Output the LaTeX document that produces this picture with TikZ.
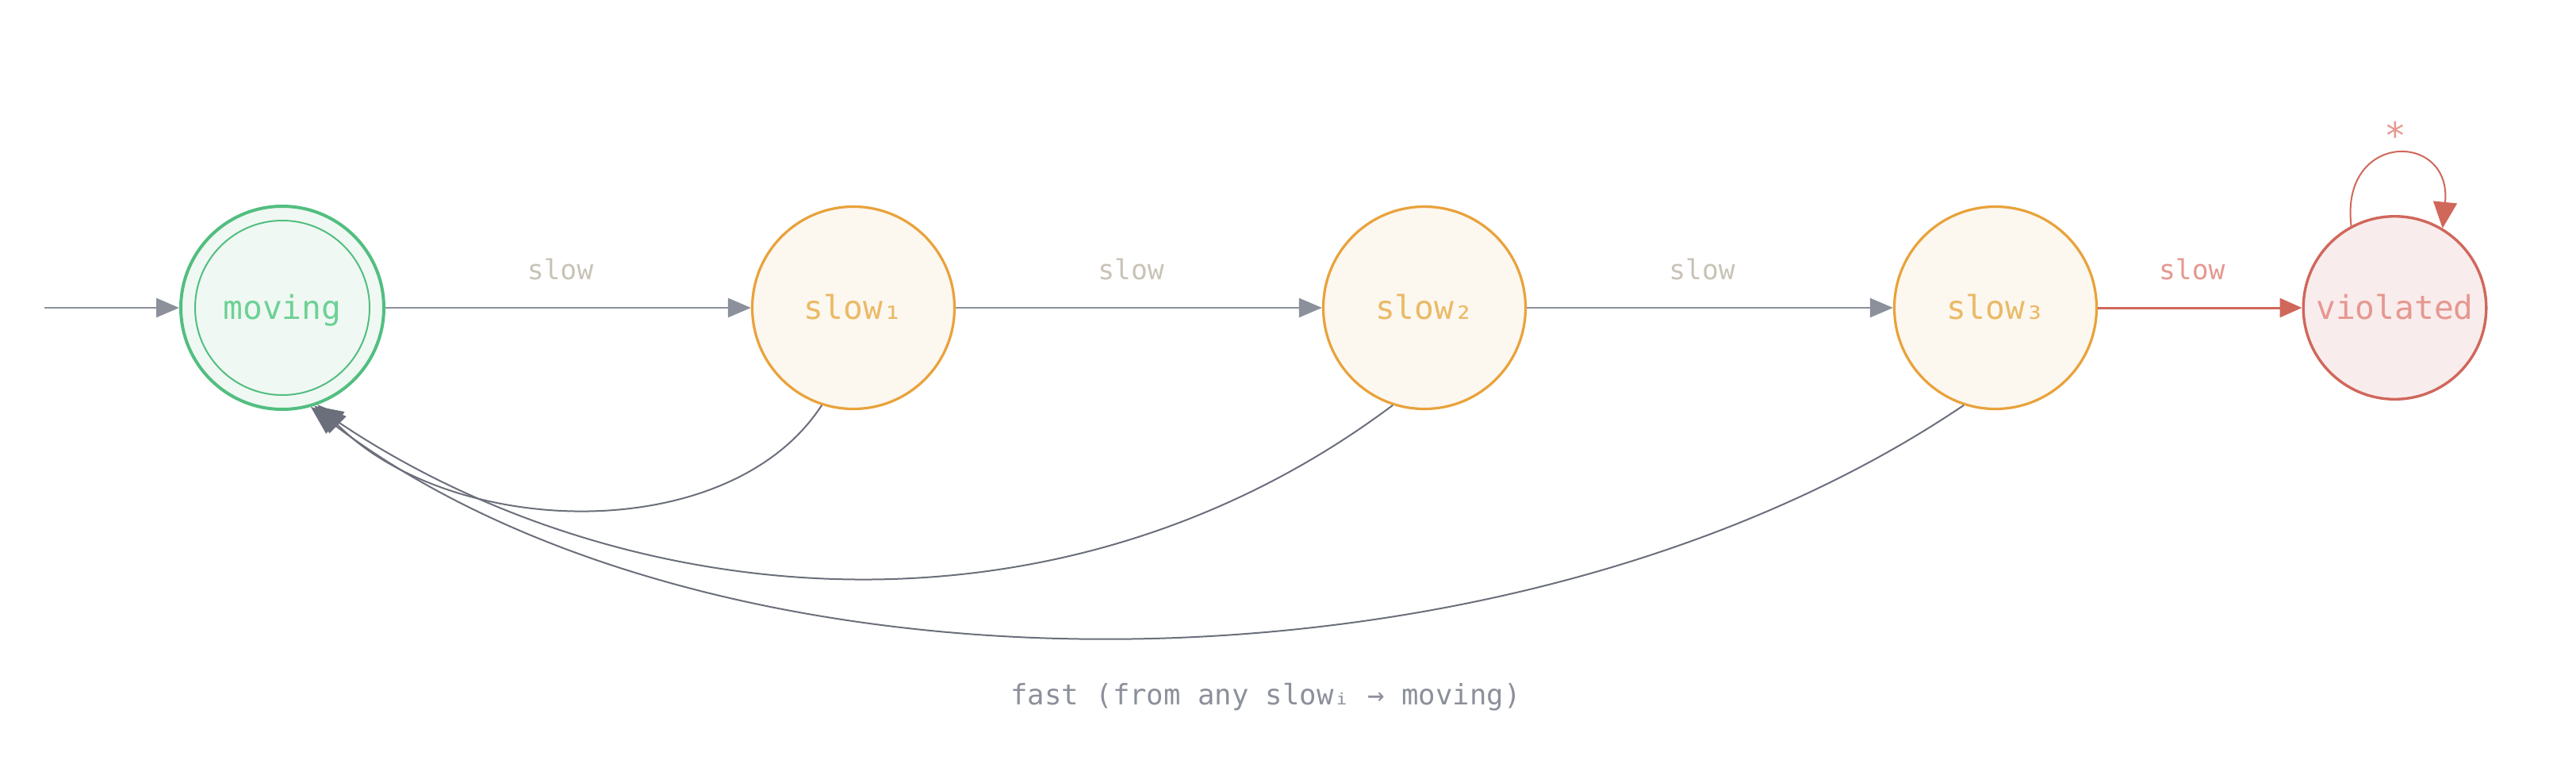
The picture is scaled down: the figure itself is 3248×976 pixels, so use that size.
\documentclass[tikz,border=0pt]{standalone}
\usepackage{fontspec}
\setmonofont{DejaVu Sans Mono}
\usetikzlibrary{arrows.meta}
\definecolor{greenS}{HTML}{52BE80}
\definecolor{greenF}{HTML}{F0F8F3}
\definecolor{greenT}{HTML}{6DD195}
\definecolor{orS}{HTML}{E9A23B}
\definecolor{orF}{HTML}{FCF7EF}
\definecolor{orT}{HTML}{EABA66}
\definecolor{redS}{HTML}{D0675B}
\definecolor{redF}{HTML}{F9ECEC}
\definecolor{redT}{HTML}{E59890}
\definecolor{edgeG}{HTML}{8C909B}
\definecolor{backG}{HTML}{6B6F7B}
\definecolor{lblG}{HTML}{C8C3B6}
\definecolor{noteG}{HTML}{8C909B}
\begin{document}
\begin{tikzpicture}[x=0.25pt,y=-0.25pt,
  statebase/.style={circle, inner sep=0pt, text height=7pt, text depth=0pt,
    font=\ttfamily\fontsize{10.3}{12}\selectfont},
  movingst/.style={statebase, draw=greenS, line width=1pt, fill=greenF, text=greenT, minimum size=64pt},
  slowst/.style={statebase, draw=orS, line width=0.8pt, fill=orF, text=orT, minimum size=63.75pt},
  violst/.style={statebase, draw=redS, line width=0.85pt, fill=redF, text=redT, minimum size=57.65pt},
  fwd/.style={draw=edgeG, line width=0.68pt, -{Triangle[length=7.25pt,width=6pt]}},
  fwdred/.style={draw=redS, line width=0.75pt, -{Triangle[length=7pt,width=6pt]}},
  back/.style={draw=backG, line width=0.5pt, -{Triangle[length=9pt,width=7.5pt]}},
  loopedge/.style={draw=redS, line width=0.5pt, -{Triangle[length=8.25pt,width=7.5pt]}},
  edgelbl/.style={font=\ttfamily\fontsize{8.65}{10}\selectfont, text=lblG, anchor=base, yshift=9pt, xshift=-2.5pt},
]
\useasboundingbox (0,0) rectangle (3248,976);

\node[movingst] (moving) at (356,388) {moving};
\draw[greenS, line width=0.5pt] (moving.center) circle[radius=110];
\node[slowst] (slow1) at (1076,388) {slow₁};
\node[slowst] (slow2) at (1796,388) {slow₂};
\node[slowst] (slow3) at (2516,388) {slow₃};
\node[violst] (violated) at (3019.5,388) {violated};

\coordinate (start) at (56,388);
\draw[fwd] (start) -- (moving);
\draw[fwd] (moving) -- node[edgelbl] {slow} (slow1);
\draw[fwd] (slow1) -- node[edgelbl] {slow} (slow2);
\draw[fwd] (slow2) -- node[edgelbl] {slow} (slow3);
\draw[fwdred] (slow3) -- node[edgelbl, text=redT] {slow} (violated);

\draw[back] (slow1.252) .. controls (920,690) and (570,680) .. (moving.290);
\draw[back] (slow2.252) .. controls (1330,830) and (780,770) .. (moving.288);
\draw[back] (slow3.252) .. controls (1900,900) and (900,900) .. (moving.286);

\draw[loopedge] (violated.118) .. controls (2950,165) and (3092,165) .. (violated.59);
\node[font=\ttfamily\fontsize{11.5}{12}\selectfont, text=redT] (star) at (3020,170) {*};

\node[font=\ttfamily\fontsize{8.9}{10}\selectfont, text=noteG, anchor=base] (note) at (1596,888) {fast (from any slowᵢ → moving)};
\end{tikzpicture}
\end{document}
